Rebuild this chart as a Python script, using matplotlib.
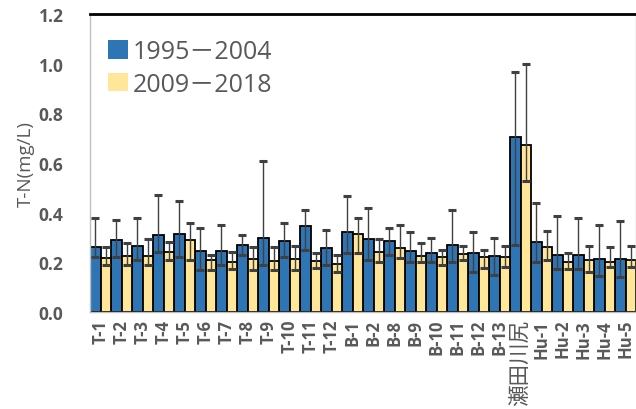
import matplotlib
matplotlib.use("Agg")
import matplotlib.pyplot as plt
from matplotlib.patches import Patch
import numpy as np

plt.rcParams['font.family'] = ['Open Sans', 'Noto Sans CJK JP', 'DejaVu Sans']

# Sampling sites
sites = ["T-1", "T-2", "T-3", "T-4", "T-5", "T-6", "T-7", "T-8", "T-9", "T-10",
         "T-11", "T-12", "B-1", "B-2", "B-8", "B-9", "B-10", "B-11", "B-12", "B-13",
         "瀬田川尻", "Hu-1", "Hu-2", "Hu-3", "Hu-4", "Hu-5"]

# 1995-2004: mean, upper limit, lower limit (mg/L)
mean_a = [0.263, 0.291, 0.266, 0.311, 0.314, 0.247, 0.247, 0.270, 0.299, 0.285,
          0.345, 0.259, 0.321, 0.294, 0.285, 0.247, 0.236, 0.270, 0.236, 0.224,
          0.703, 0.281, 0.231, 0.231, 0.213, 0.213]
upper_a = [0.380, 0.369, 0.380, 0.471, 0.448, 0.340, 0.350, 0.310, 0.608, 0.357,
           0.411, 0.329, 0.468, 0.418, 0.338, 0.321, 0.298, 0.411, 0.321, 0.298,
           0.968, 0.440, 0.388, 0.380, 0.352, 0.368]
lower_a = [0.220, 0.220, 0.208, 0.240, 0.221, 0.170, 0.190, 0.231, 0.190, 0.220,
           0.250, 0.189, 0.238, 0.208, 0.230, 0.203, 0.203, 0.200, 0.160, 0.149,
           0.270, 0.200, 0.173, 0.173, 0.146, 0.141]

# 2009-2018: mean, upper limit, lower limit (mg/L)
mean_b = [0.216, 0.227, 0.227, 0.240, 0.290, 0.209, 0.200, 0.213, 0.204, 0.213,
          0.207, 0.192, 0.314, 0.240, 0.259, 0.224, 0.220, 0.234, 0.220, 0.223,
          0.673, 0.260, 0.200, 0.209, 0.200, 0.209]
upper_b = [0.261, 0.278, 0.294, 0.281, 0.358, 0.231, 0.240, 0.260, 0.260, 0.267,
           0.239, 0.230, 0.379, 0.294, 0.350, 0.278, 0.251, 0.266, 0.250, 0.267,
           0.997, 0.328, 0.238, 0.267, 0.260, 0.267]
lower_b = [0.189, 0.189, 0.189, 0.209, 0.208, 0.170, 0.173, 0.170, 0.170, 0.170,
           0.176, 0.160, 0.238, 0.200, 0.217, 0.203, 0.189, 0.211, 0.179, 0.180,
           0.529, 0.209, 0.173, 0.162, 0.180, 0.180]

series_labels = ["1995\uff0d2004", "2009\uff0d2018"]
colors = ["#2E75B6", "#FFE699"]

fig = plt.figure(figsize=(6.36, 4.10), dpi=100)
ax = fig.add_axes([90 / 636, 1 - 313 / 410, 546 / 636, (313 - 15) / 410])

x = np.arange(len(sites))
w = 0.5
gray = "#595959"

for off, m, up, lo, c in [(-w / 2, mean_a, upper_a, lower_a, colors[0]),
                          (w / 2, mean_b, upper_b, lower_b, colors[1])]:
    m = np.array(m)
    ax.bar(x + off, m, width=w, color=c, edgecolor="black", linewidth=1.3, zorder=2)
    yerr = np.vstack([m - np.array(lo), np.array(up) - m])
    ax.errorbar(x + off, m, yerr=yerr, fmt="none", ecolor="#404040",
                elinewidth=1.0, capsize=3, capthick=2.2, zorder=3)

ax.set_xlim(-0.5, len(sites) - 0.5)
ax.set_ylim(0, 1.2)
yt = np.arange(0, 1.21, 0.2)
ax.set_yticks(yt)
ax.set_yticklabels([f"{v:.1f}" for v in yt], fontsize=12.5, fontweight="bold", color=gray)
ax.set_xticks(x)
ax.set_xticklabels(sites, rotation=90, fontsize=12, fontweight="bold", color=gray)
for lbl in ax.get_xticklabels():
    if lbl.get_text() == "瀬田川尻":
        lbl.set_fontsize(15.5)
        lbl.set_fontweight("normal")
ax.tick_params(axis="x", length=0, pad=5)
ax.tick_params(axis="y", length=0, pad=19)

ax.set_ylabel("T-N(mg/L)", fontsize=13.5, color=gray, labelpad=3)

for side in ["left", "bottom", "right"]:
    ax.spines[side].set_color("#bfbfbf")
    ax.spines[side].set_linewidth(1.0)
ax.spines["top"].set_color("black")
ax.spines["top"].set_linewidth(2.0)

handles = [Patch(facecolor=colors[0], edgecolor="none"),
           Patch(facecolor=colors[1], edgecolor="none")]
ax.legend(handles, series_labels, loc="upper left", bbox_to_anchor=(0.033, 0.915),
          frameon=False, fontsize=18, labelcolor=gray, handlelength=0.8,
          handleheight=0.75, handletextpad=0.2, labelspacing=0.3,
          borderaxespad=0, borderpad=0)

fig.savefig("out.png", dpi=100)
